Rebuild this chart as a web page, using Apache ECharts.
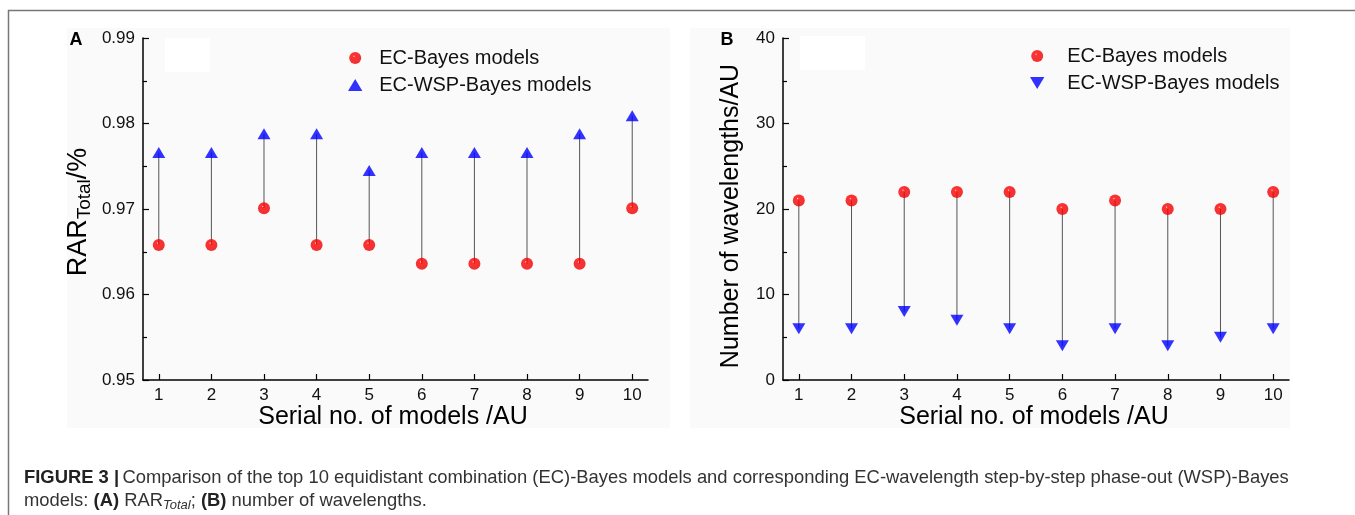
<!DOCTYPE html>
<html>
<head>
<meta charset="UTF-8"/>
<script type="text/javascript" src="https://cdn.jsdelivr.net/npm/echarts@6/dist/echarts.min.js"></script>
<style>
  html, body { margin: 0; padding: 0; background: #fff; }
  #main { width: 1355px; height: 515px; }
</style>
</head>
<body>
<div id="main"></div>
<script type="text/javascript">
// serial numbers of the models (x axis)
var models = [1, 2, 3, 4, 5, 6, 7, 8, 9, 10];
// panel A: RAR_Total
var rarEC  = [0.9658, 0.9658, 0.9701, 0.9658, 0.9658, 0.9636, 0.9636, 0.9636, 0.9636, 0.9701];
var rarWSP = [0.9766, 0.9766, 0.9788, 0.9788, 0.9745, 0.9766, 0.9766, 0.9766, 0.9788, 0.9809];
// panel B: number of wavelengths
var waveEC  = [21, 21, 22, 22, 22, 20, 21, 20, 20, 22];
var waveWSP = [6, 6, 8, 7, 6, 4, 6, 4, 5, 6];
// tick labels
var rarTicks  = [0.95, 0.96, 0.97, 0.98, 0.99];
var waveTicks = [0, 10, 20, 30, 40];

var FONT = '"Liberation Sans", Arial, sans-serif';

function pairs(xs, ys) {
    var out = [];
    for (var i = 0; i < xs.length; i++) out.push([xs[i], ys[i]]);
    return out;
}
function stems(xs, a, b) {
    var out = [];
    for (var i = 0; i < xs.length; i++) out.push([xs[i], a[i], b[i]]);
    return out;
}
function renderStem(params, api) {
    var p1 = api.coord([api.value(0), api.value(1)]);
    var p2 = api.coord([api.value(0), api.value(2)]);
    return {
        type: 'line',
        shape: { x1: p1[0], y1: p1[1], x2: p2[0], y2: p2[1] },
        style: { stroke: '#555', lineWidth: 1 }
    };
}

var redBall = {
    type: 'radial', x: 0.4, y: 0.35, r: 0.6,
    colorStops: [
        { offset: 0, color: '#fff0f0' },
        { offset: 0.14, color: '#ff0000' },
        { offset: 1, color: '#ec0000' }
    ]
};
var upTri = 'path://M6,0 L12,10 L0,10 Z';
var downTri = 'path://M0,0 L12,0 L6,10 Z';

function xAxisOf(gi) {
    return {
        type: 'value', gridIndex: gi, min: 0.7, max: 10.3,
        splitLine: { show: false },
        axisLine: { lineStyle: { color: '#000', width: 1.5 } },
        axisTick: { inside: true, length: 6, customValues: models, lineStyle: { color: '#000', width: 1.2 } },
        axisLabel: { customValues: models, margin: 7, fontSize: 17, color: '#111', fontFamily: FONT }
    };
}
function yAxisOf(gi, ticks, fmt) {
    return {
        type: 'value', gridIndex: gi,
        min: ticks[0], max: ticks[ticks.length - 1],
        interval: ticks[1] - ticks[0],
        splitLine: { show: false },
        axisLine: { show: true, lineStyle: { color: '#000', width: 1.5 } },
        axisTick: { show: true, inside: true, length: 6, lineStyle: { color: '#000', width: 1.2 } },
        minorTick: { show: true, splitNumber: 2, length: 4, lineStyle: { color: '#000', width: 1.2 } },
        axisLabel: { margin: 8, fontSize: 17, color: '#111', fontFamily: FONT, formatter: fmt }
    };
}
function legendOf(left, top, triIcon, textGap) {
    return {
        orient: 'vertical', left: left, top: top,
        itemWidth: 34, itemHeight: 12, itemGap: 7,
        textStyle: { fontSize: 20, color: '#111', fontFamily: FONT, padding: [0, 0, 0, textGap] },
        data: [
            { name: 'EC-Bayes models', icon: 'circle' },
            { name: 'EC-WSP-Bayes models', icon: triIcon }
        ]
    };
}

var option = {
    animation: false,
    textStyle: { fontFamily: FONT },
    grid: [
        { left: 143, top: 38, width: 505, height: 342 },
        { left: 783, top: 38, width: 506, height: 342 }
    ],
    xAxis: [xAxisOf(0), xAxisOf(1)],
    yAxis: [
        yAxisOf(0, rarTicks, function (v) { return v.toFixed(2); }),
        yAxisOf(1, waveTicks, function (v) { return String(v); })
    ],
    legend: [legendOf(343, 43, upTri, 2), legendOf(1025, 41, downTri, 8)],
    series: [
        { type: 'custom', xAxisIndex: 0, yAxisIndex: 0, renderItem: renderStem, silent: true,
          encode: { x: 0, y: [1, 2] }, data: stems(models, rarEC, rarWSP), z: 1 },
        { name: 'EC-Bayes models', type: 'scatter', xAxisIndex: 0, yAxisIndex: 0,
          symbol: 'circle', symbolSize: 12, itemStyle: { color: redBall }, data: pairs(models, rarEC), z: 3 },
        { name: 'EC-WSP-Bayes models', type: 'scatter', xAxisIndex: 0, yAxisIndex: 0,
          symbol: upTri, symbolSize: [13, 11], itemStyle: { color: '#0000ff' }, data: pairs(models, rarWSP), z: 3 },

        { type: 'custom', xAxisIndex: 1, yAxisIndex: 1, renderItem: renderStem, silent: true,
          encode: { x: 0, y: [1, 2] }, data: stems(models, waveEC, waveWSP), z: 1 },
        { name: 'EC-Bayes models', type: 'scatter', xAxisIndex: 1, yAxisIndex: 1,
          symbol: 'circle', symbolSize: 12, itemStyle: { color: redBall }, data: pairs(models, waveEC), z: 3 },
        { name: 'EC-WSP-Bayes models', type: 'scatter', xAxisIndex: 1, yAxisIndex: 1,
          symbol: downTri, symbolSize: [13, 11], itemStyle: { color: '#0000ff' }, data: pairs(models, waveWSP), z: 3 }
    ],
    graphic: [
        // figure frame (top and left)
        { type: 'line', shape: { x1: 8, y1: 10.5, x2: 1355, y2: 10.5 }, style: { stroke: '#777', lineWidth: 1.5 }, z: -5 },
        { type: 'line', shape: { x1: 8.5, y1: 10, x2: 8.5, y2: 515 }, style: { stroke: '#777', lineWidth: 1.5 }, z: -5 },
        // light panel backgrounds
        { type: 'rect', shape: { x: 67, y: 28, width: 603, height: 400 }, style: { fill: '#fafafa' }, z: -10 },
        { type: 'rect', shape: { x: 690, y: 28, width: 600, height: 400 }, style: { fill: '#fafafa' }, z: -10 },
        { type: 'rect', shape: { x: 165, y: 38, width: 45, height: 34 }, style: { fill: '#fff' }, z: -9 },
        { type: 'rect', shape: { x: 800, y: 36, width: 65, height: 34 }, style: { fill: '#fff' }, z: -9 },
        // panel letters
        { type: 'text', x: 76, y: 40, style: { text: 'A', fill: '#000', font: 'bold 18px ' + FONT, align: 'center', verticalAlign: 'middle' } },
        { type: 'text', x: 727, y: 40, style: { text: 'B', fill: '#000', font: 'bold 18px ' + FONT, align: 'center', verticalAlign: 'middle' } },
        // axis names
        { type: 'text', x: 393, y: 417, style: { text: 'Serial no. of models /AU', fontSize: 25, fontFamily: FONT, fill: '#000', align: 'center', verticalAlign: 'middle' } },
        { type: 'text', x: 1034, y: 417, style: { text: 'Serial no. of models /AU', fontSize: 25, fontFamily: FONT, fill: '#000', align: 'center', verticalAlign: 'middle' } },
        { type: 'text', x: 79, y: 212, rotation: Math.PI / 2,
          style: { text: '{a|RAR}{b|Total}{a|/%}', align: 'center', verticalAlign: 'middle', fill: '#000',
                   rich: { a: { fontSize: 27, fontFamily: FONT, lineHeight: 30 },
                           b: { fontSize: 19, fontFamily: FONT, lineHeight: 19, verticalAlign: 'bottom' } } } },
        { type: 'text', x: 731, y: 216, rotation: Math.PI / 2,
          style: { text: 'Number of wavelengths/AU', fontSize: 25, fontFamily: FONT, fill: '#000', align: 'center', verticalAlign: 'middle' } },
        // caption
        { type: 'text', x: 24, y: 478,
          style: { text: '{h|FIGURE 3 |} {n|Comparison of the top 10 equidistant combination (EC)-Bayes models and corresponding EC-wavelength step-by-step phase-out (WSP)-Bayes}',
                   verticalAlign: 'middle', fill: '#333',
                   rich: { h: { fontSize: 18.4, fontWeight: 'bold', fontFamily: FONT, fill: '#222' },
                           n: { fontSize: 18.4, fontFamily: FONT, fill: '#333' } } } },
        { type: 'text', x: 24, y: 501,
          style: { text: '{n|models: }{h|(A)}{n| RAR}{s|Total}{n|; }{h|(B)}{n| number of wavelengths.}',
                   verticalAlign: 'middle', fill: '#333',
                   rich: { h: { fontSize: 18.4, fontWeight: 'bold', fontFamily: FONT, fill: '#222', lineHeight: 22 },
                           n: { fontSize: 18.4, fontFamily: FONT, fill: '#333', lineHeight: 22 },
                           s: { fontSize: 13, fontStyle: 'italic', fontFamily: FONT, fill: '#333', lineHeight: 13, verticalAlign: 'bottom' } } } }
    ]
};

var myChart = echarts.init(document.getElementById('main'));
myChart.setOption(option);
</script>
</body>
</html>
